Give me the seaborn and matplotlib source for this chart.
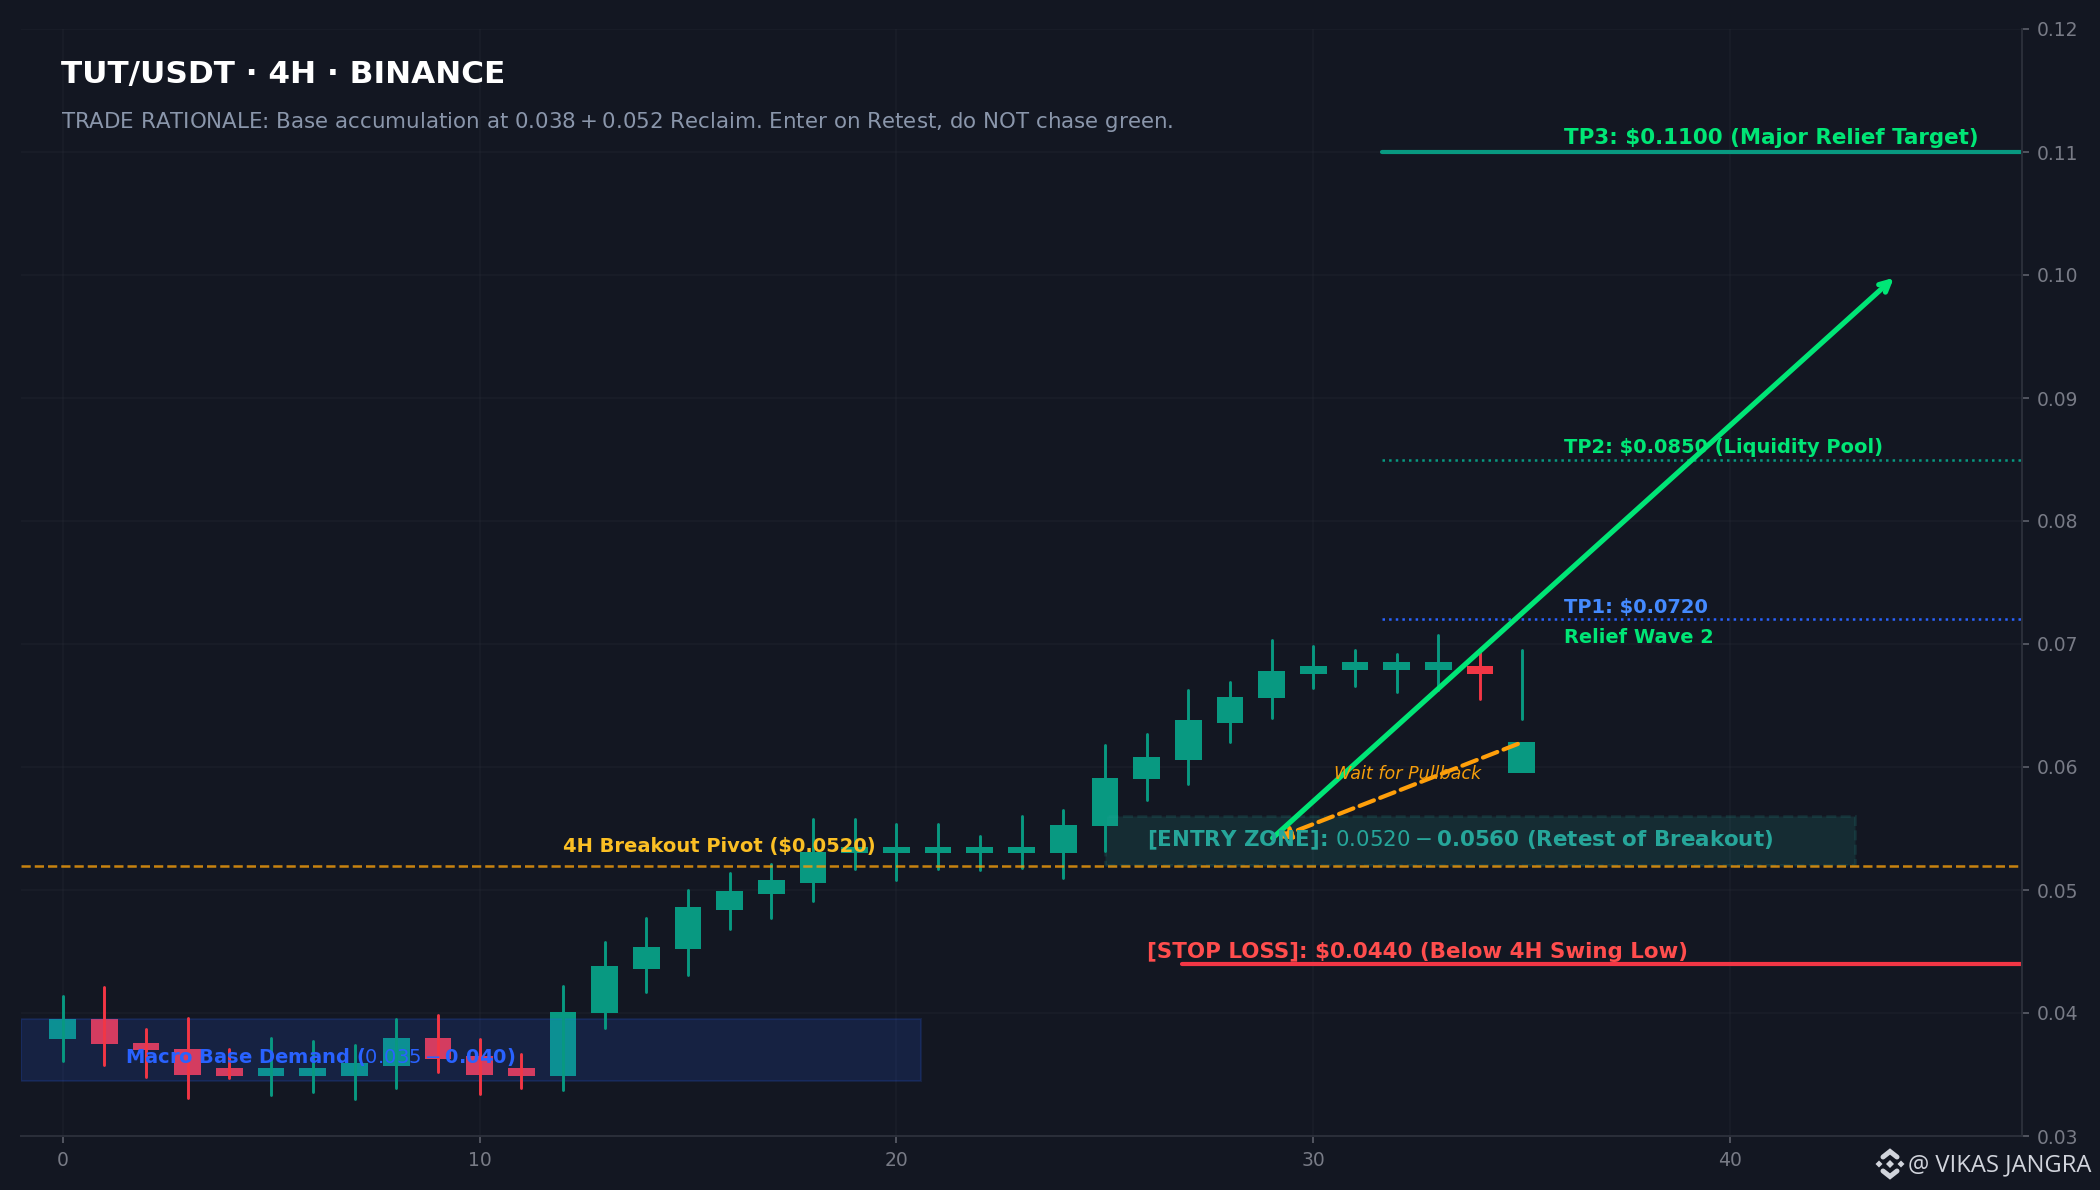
import numpy as np
import pandas as pd
import matplotlib
matplotlib.use("Agg")
import matplotlib.pyplot as plt
from matplotlib.lines import Line2D
from matplotlib.patches import Rectangle
from matplotlib.transforms import Affine2D
import seaborn as sns

opens = [.0379,.0395,.0376,.0371,.0355,.0349,.0349,.0349,.0357,.0380,.0365,.0355,.0349,.0400,.0436,.0452,.0484,.0497,.0506,
         .0530,.0530,.0530,.0530,.0530,.0530,.0552,.0590,.0606,.0636,.0656,.0676,.0679,.0679,.0679,.0682,.0595]
closes = [.0395,.0375,.0370,.0350,.0349,.0355,.0355,.0359,.0380,.0363,.0350,.0349,.0401,.0438,.0454,.0486,.0499,.0508,.0531,
          .0535,.0535,.0535,.0535,.0535,.0553,.0591,.0608,.0638,.0657,.0678,.0682,.0685,.0685,.0685,.0676,.0620]
highs = [.0414,.0421,.0387,.0396,.0371,.0380,.0377,.0374,.0395,.0398,.0379,.0367,.0422,.0458,.0477,.0500,.0514,.0521,.0558,
         .0558,.0554,.0554,.0544,.0560,.0565,.0618,.0627,.0663,.0669,.0703,.0698,.0695,.0692,.0707,.0693,.0695]
lows = [.0361,.0358,.0348,.0331,.0347,.0333,.0336,.0330,.0339,.0352,.0334,.0339,.0337,.0388,.0417,.0431,.0468,.0477,.0491,
        .0517,.0508,.0517,.0516,.0518,.0510,.0532,.0573,.0586,.0620,.0640,.0664,.0666,.0661,.0663,.0655,.0639]

BG = "#131722"
GREEN = "#089981"
RED = "#f23645"
BRIGHT = "#00e676"
BLUE = "#2962ff"
ORANGE = "#f59e0b"
TEAL = "#26a69a"

sns.set_theme(style="dark", rc={"figure.facecolor": BG, "axes.facecolor": BG, "font.family": "DejaVu Sans"})

fig = plt.figure(figsize=(14, 1190 / 150), dpi=150, facecolor=BG)
ax = fig.add_axes([21 / 2100, 54 / 1190, 2001 / 2100, 1107 / 1190], facecolor=BG)

df = pd.DataFrame({"i": np.arange(len(opens)), "o": opens, "c": closes, "h": highs, "l": lows})
df["dir"] = np.where(df.c >= df.o, "up", "down")
df["bottom"] = df[["o", "c"]].min(axis=1)
df["height"] = (df.c - df.o).abs()

for d, col in (("up", GREEN), ("down", RED)):
    s = df[df["dir"] == d]
    ax.bar(s.i, s.height, bottom=s.bottom, width=0.64, color=col, linewidth=0, zorder=1)

wicks = df.melt(id_vars=["i", "dir"], value_vars=["l", "h"], value_name="price")
sns.lineplot(data=wicks, x="i", y="price", hue="dir", units="i", estimator=None, sort=False,
             palette={"up": GREEN, "down": RED}, linewidth=1.4, legend=False, ax=ax, zorder=2)

ax.set_xlim(-1, 47)
ax.set_ylim(0.03, 0.12)
ax.set_xlabel("")
ax.set_ylabel("")
ax.set_xticks([0, 10, 20, 30, 40])
ax.set_yticks(np.arange(3, 13) / 100)
ax.yaxis.set_major_formatter(matplotlib.ticker.FormatStrFormatter("%.2f"))
ax.yaxis.tick_right()
ax.grid(True, color="#2a2e39", alpha=0.3, linewidth=0.8)
ax.tick_params(axis="both", colors="#5d606b", labelcolor="#787b86", labelsize=9, length=3.5, width=0.8,
               bottom=True, right=True, left=False)
for side in ("top", "left"):
    ax.spines[side].set_visible(False)
for side in ("bottom", "right"):
    ax.spines[side].set_visible(True)
    ax.spines[side].set_color("#2a2e39")
    ax.spines[side].set_linewidth(1.0)

# Zones
ax.axhspan(0.0345, 0.0395, xmin=0, xmax=0.45, facecolor=BLUE, alpha=0.15, edgecolor=BLUE, linewidth=1)
ax.add_patch(Rectangle((25, 0.052), 18, 0.004, facecolor=TEAL, edgecolor=TEAL, alpha=0.15, linewidth=1.3,
                       linestyle="--", zorder=1))

# Levels
ax.axhline(0.05195, color=ORANGE, linestyle="--", linewidth=1.2, alpha=0.8, zorder=2)
ax.axhline(0.11, xmin=0.68, color=GREEN, linewidth=2, zorder=2)
ax.axhline(0.085, xmin=0.68, color=GREEN, linestyle=":", linewidth=1.2, zorder=2)
ax.axhline(0.072, xmin=0.68, color=BLUE, linestyle=":", linewidth=1.2, zorder=2)
ax.axhline(0.044, xmin=0.58, color=RED, linewidth=2, zorder=2)

# Labels
def label(x, y, s, color, size=9, **kw):
    kw.setdefault("fontweight", "bold")
    ax.text(x, y, s, color=color, fontsize=size, va="center", ha="left", zorder=5, **kw)

label(36.02, 0.1111, "TP3: $0.1100 (Major Relief Target)", BRIGHT, 10.25)
label(36.02, 0.0860, "TP2: $0.0850 (Liquidity Pool)", BRIGHT, 9.35)
label(36.02, 0.0730, "TP1: $0.0720", "#448aff", 9.35)
label(36.02, 0.0705, "Relief Wave 2", BRIGHT, 9.3)
label(12, 0.0535, "4H Breakout Pivot ($0.0520)", "#fbbf24", 9.35)
label(26, 0.0540, "[ENTRY ZONE]: $0.0520 - $0.0560 (Retest of Breakout)", TEAL, 10.25)
label(26, 0.0450, "[STOP LOSS]: $0.0440 (Below 4H Swing Low)", "#ff4d4d", 10.28)
label(1.5, 0.0364, "Macro Base Demand ($0.035 - $0.040)", BLUE, 9.35)
label(30.5, 0.0594, "Wait for Pullback", ORANGE, 8.4, fontweight="normal", fontstyle="italic")

# Arrows
ax.annotate("", xy=(29.05, 0.0541), xytext=(35, 0.062),
            arrowprops=dict(arrowstyle="-|>", color="#ff9f0a", lw=2, linestyle="--"), zorder=4)
ax.annotate("", xy=(44, 0.100), xytext=(28.95, 0.0540),
            arrowprops=dict(arrowstyle="->", color=BRIGHT, lw=2.5), zorder=4)

# Header
fig.text(61 / 2100, 1 - 75 / 1190, "TUT/USDT · 4H · BINANCE", color="white", fontsize=14.95, fontweight="bold",
         va="center", ha="left")
fig.text(61 / 2100, 1 - 122 / 1190, "TRADE RATIONALE: Base accumulation at $0.038 + $0.052 Reclaim. Enter on Retest, do NOT chase green.",
         color="#8a96ab", fontsize=10.25, va="center", ha="left")

# Watermark
fig.text(1908 / 2100, 1 - 1165 / 1190, "@ VIKAS JANGRA", color="#d1d4dc", fontsize=11.4, family="Open Sans",
         va="center", ha="left")
WM = "#d1d4dc"
px = Affine2D().scale(1 / 2100, 1 / 1190) + fig.transFigure
cx, cy = 1890, 1190 - 1164
for dx, dy, r in ((0, 0, 4), (-11, 0, 3.5), (11, 0, 3.5)):
    fig.add_artist(plt.Polygon([(cx + dx - r, cy + dy), (cx + dx, cy + dy + r), (cx + dx + r, cy + dy), (cx + dx, cy + dy - r)],
                               closed=True, facecolor=WM, edgecolor="none", transform=px))
for sgn in (1, -1):
    fig.add_artist(Line2D([cx - 7, cx, cx + 7], [cy + sgn * 7, cy + sgn * 12.5, cy + sgn * 7],
                          color=WM, linewidth=2.4, transform=px, solid_joinstyle="miter"))

fig.savefig("out.png", dpi=150, facecolor=BG)
